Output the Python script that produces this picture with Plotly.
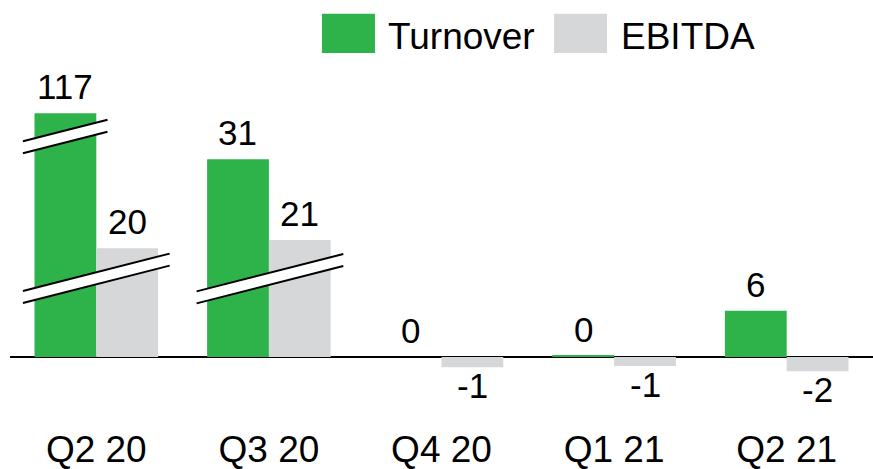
import plotly.graph_objects as go

# ==============================
# DATA
# ==============================

quarters = ["Q2 20", "Q3 20", "Q4 20", "Q1 21", "Q2 21"]

turnover_values = [117, 31, 0, 0, 6]
ebitda_values = [20, 21, -1, -1, -2]

# the chart uses a broken / compressed axis, so the drawn heights are not
# proportional to the printed values (1 unit = 10 px)
turnover_drawn = [24.37, 19.77, 0.0, 0.15, 4.63]
ebitda_drawn = [10.87, 11.7, -1.03, -0.9, -1.43]

# axis break marks: (category centre, y centre, half width)
breaks = [(-0.18, 22.05, 0.245), (0.0, 7.87, 0.425), (1.006, 7.83, 0.425)]

GREEN = "#2EB34B"
GREY = "#D6D7D9"
FONT = "Arial, Liberation Sans, sans-serif"

# ==============================
# BUILD GRAPH
# ==============================

fig = go.Figure()

fig.add_trace(go.Bar(
    x=quarters, y=turnover_drawn, name="Turnover",
    marker=dict(color=GREEN, line=dict(width=0)),
))
fig.add_trace(go.Bar(
    x=quarters, y=ebitda_drawn, name="EBITDA",
    marker=dict(color=GREY, line=dict(width=0)),
))

# value labels
for i in range(len(quarters)):
    for val, h, shift in ((turnover_values[i], turnover_drawn[i], -31),
                          (ebitda_values[i], ebitda_drawn[i], 31)):
        if val >= 0:
            fig.add_annotation(x=i, y=h, xshift=shift, yshift=5, yanchor="bottom",
                               text=str(val), showarrow=False,
                               font=dict(size=35, color="black", family=FONT))
        else:
            fig.add_annotation(x=i, y=h, xshift=shift, yshift=3, yanchor="top",
                               text=str(val), showarrow=False,
                               font=dict(size=35, color="black", family=FONT))

# break marks
slope = 4.4
gap = 1.2
for cx, cy, hw in breaks:
    x0, x1 = cx - hw, cx + hw
    y0, y1 = cy - slope * hw, cy + slope * hw
    path = (f"M {x0},{y0 + gap / 2} L {x1},{y1 + gap / 2} "
            f"L {x1},{y1 - gap / 2} L {x0},{y0 - gap / 2} Z")
    fig.add_shape(type="path", path=path, xref="x", yref="y",
                  fillcolor="white", line=dict(width=0))
    for d in (gap / 2, -gap / 2):
        fig.add_shape(type="line", xref="x", yref="y",
                      x0=x0, y0=y0 + d, x1=x1, y1=y1 + d,
                      line=dict(color="black", width=2))

# legend drawn by hand (large swatches)
for name, color, sx0, sx1, tx in (("Turnover", GREEN, 0.3615, 0.4229, 0.4357),
                                  ("EBITDA", GREY, 0.6304, 0.6918, 0.7057)):
    fig.add_shape(type="rect", xref="paper", yref="paper",
                  x0=sx0, x1=sx1, y0=0.874, y1=0.967,
                  fillcolor=color, line=dict(width=0))
    fig.add_annotation(x=tx, y=0.912, xref="paper", yref="paper",
                       xanchor="left", yanchor="middle", text=name,
                       showarrow=False,
                       font=dict(size=37, color="black", family=FONT))

# ==============================
# STYLE
# ==============================

fig.update_layout(
    width=873, height=469,
    barmode="group", bargap=0.284, bargroupgap=0,
    showlegend=False,
    plot_bgcolor="white", paper_bgcolor="white",
    margin=dict(l=10, r=0, t=0, b=49),
    font=dict(family=FONT, color="black"),
    xaxis=dict(range=[-0.5, 4.5], showgrid=False, showline=False,
               ticks="", ticklabelstandoff=4, automargin=False,
               tickfont=dict(size=37, color="black")),
    yaxis=dict(range=[-6.3, 35.7], showgrid=False, showticklabels=False,
               zeroline=True, zerolinecolor="black", zerolinewidth=2),
)

fig.write_html(
    "out.html",
    config={"displayModeBar": False},
    post_script="document.body.style.margin='0';document.body.style.overflow='hidden';",
)
